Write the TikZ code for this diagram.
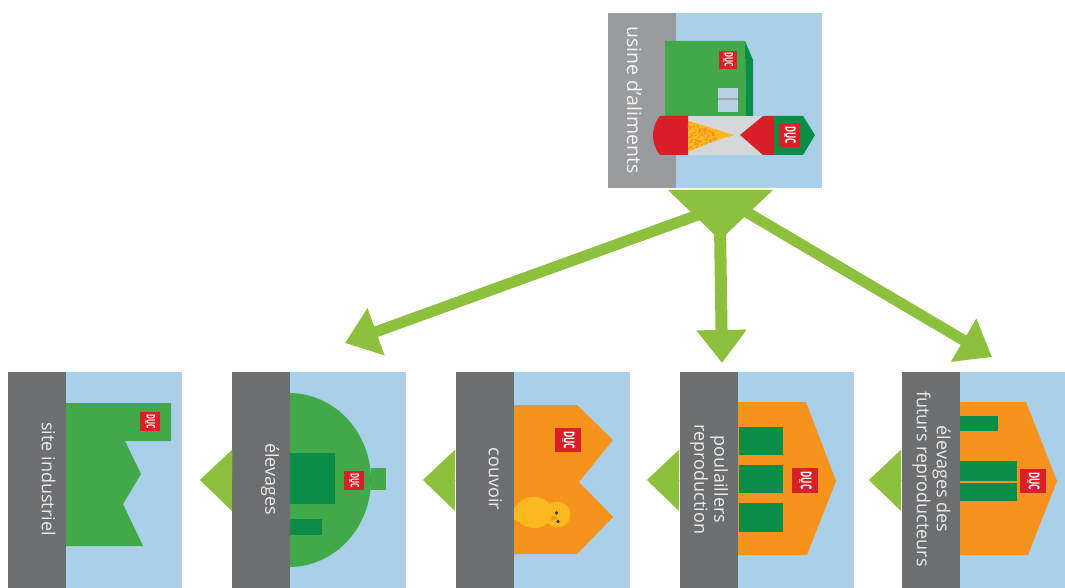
\documentclass[tikz,border=0pt]{standalone}
\usepackage{fontspec}
\setmainfont{Open Sans}
\usetikzlibrary{arrows.meta,calc}
\definecolor{headgray}{HTML}{6D6E70}
\definecolor{headlight}{HTML}{9A9B9D}
\definecolor{skyblue}{HTML}{A9CFE9}
\definecolor{barn}{HTML}{42A84A}
\definecolor{darkbarn}{HTML}{0A8D47}
\definecolor{orangebarn}{HTML}{F6931E}
\definecolor{ducred}{HTML}{D92027}
\definecolor{linkgreen}{HTML}{8DC03C}
\definecolor{chick}{HTML}{FBB81F}
\definecolor{silver}{HTML}{D5D8DA}
\tikzset{
  head/.style={fill=headgray,draw=none,inner sep=0pt,minimum width=58pt,minimum height=216pt,anchor=north west},
  sky/.style={fill=skyblue,draw=none,inner sep=0pt,minimum width=116pt,minimum height=216pt,anchor=north west},
  caption/.style={rotate=-90,text=white!92!black,align=center,font=\fontsize{18}{20}\selectfont,inner sep=0pt},
  biglink/.style={draw=linkgreen,line width=11pt,-{Triangle[length=33pt,width=48pt,fill=linkgreen]}},
  smalllink/.style={draw=linkgreen,line width=.1pt,-{Triangle[length=32pt,width=61pt,fill=linkgreen]}},
  logo/.style={fill=ducred,rotate=-90,text=white,inner sep=0pt},
  logomark/.style={draw=white!55!ducred,line width=.5pt}
}
\newcommand{\ducmark}[6]{% name, cx, cy, w, h, size
  \node[logo,minimum width=#5pt,minimum height=#4pt,font=\bfseries\fontsize{#6}{#6}\selectfont] (#1) at (#2,#3) {\raisebox{.16em}{\scalebox{.56}[1]{DUC}}};
  \draw[logomark] ($(#1.center)+(-.24*#4,-2)$) -- ($(#1.center)+(-.24*#4,2)$);
}
\begin{document}
\begin{tikzpicture}[x=1pt,y=-1pt]
\useasboundingbox (0,0) rectangle (1065,588);
\fill[white] (0,0) rectangle (1065,588);

% links from the hub
\coordinate (hubL) at (720,207);
\coordinate (hubB) at (720,225);
\coordinate (hubR) at (720,196.5);
\coordinate (tipL) at (345,343);
\coordinate (tipB) at (722,363);
\coordinate (tipR) at (992,357);
\draw[biglink] (hubL) -- (tipL);
\draw[biglink,line width=12pt] (hubB) -- (tipB);
\draw[biglink] (hubR) -- (tipR);
\fill[linkgreen] (668,190) -- (773,190) -- (720,240) -- cycle;

% top panel: usine d'aliments
\fill[skyblue] (676,13) rectangle (822,188);
\fill[barn] (665,41) -- (745,41) -- (746,116) -- (665,116) -- cycle;
\fill[darkbarn] (745,41) -- (753,60) -- (753,116) -- (746,116) -- cycle;
\fill[skyblue!70!silver] (718,88) rectangle (738,112);
\fill[gray!70] (718,98.5) rectangle (738,100);
\ducmark{logoF}{728}{60}{18}{18}{12}
\node[fill=headlight,inner sep=0pt,minimum width=68pt,minimum height=175pt,anchor=north west] (usineHead) at (608,13) {};
\fill[barn] (665,41) rectangle (676,116);
\node[caption,font=\fontsize{19.5}{21}\selectfont,text=white!90!headlight] (usineText) at (634.5,100) {usine d'aliments};
\fill[silver] (688,116) rectangle (763,155);
\fill[ducred] (688,116) -- (660,116) .. controls (655,122) and (653,128) .. (653,135) .. controls (653,142) and (655,149) .. (660,155) -- (688,155) -- cycle;
\fill[chick] (688,121) .. controls (702,124) and (718,131) .. (735,135) .. controls (718,139) and (702,146) .. (688,152) -- cycle;
\pgfmathsetseed{7}
\foreach \i in {1,...,90}{
  \pgfmathsetmacro{\gx}{688+rnd*28}
  \pgfmathsetmacro{\gy}{136+(rnd-.5)*(31-(\gx-688)*.85)}
  \fill[orangebarn!90!ducred] (\gx,\gy) circle (.8pt);
}
\fill[ducred] (740,135) -- (763,116) -- (774,116) -- (774,155) -- (763,155) -- cycle;
\fill[darkbarn] (774,116) -- (803,116) -- (815,135) -- (803,155) -- (774,155) -- cycle;
\ducmark{logoS}{789.5}{135.5}{21}{23}{14.5}

% site industriel
\node[sky] (siteSky) at (66,372) {};
\fill[barn] (66,403) -- (171,403) -- (171,441) -- (125,441) -- (141,474) -- (123,504) -- (143,546) -- (66,546) -- cycle;
\ducmark{logoA}{150}{421.5}{20}{19}{12}
\node[head] (siteHead) at (8,372) {};
\node[caption] (siteText) at (48.5,479) {site industriel};

% elevages
\node[sky] (elevSky) at (290,372) {};
\fill[barn] (371,468) rectangle (386,490);
\fill[barn] (289,393) arc[start angle=-90,end angle=90,x radius=82,y radius=87] -- cycle;
\fill[darkbarn] (289,453) rectangle (335,504);
\fill[darkbarn] (289,519) rectangle (322,535);
\ducmark{logoB}{354}{480.5}{20}{19}{12}
\node[head] (elevHead) at (232,372) {};
\node[caption] (elevText) at (270,479) {élevages};

% couvoir
\node[sky] (couvSky) at (514,372) {};
\fill[orangebarn] (514,405) -- (577,405) -- (613,440) -- (579,482) -- (613,517) -- (577,554) -- (514,554) -- cycle;
\ducmark{logoC}{568}{440}{26}{24}{15}
\fill[chick] (534,512.5) ellipse[x radius=19,y radius=15.5];
\fill[chick] (514,508) -- (519,505) -- (519,522) -- (514,519) -- cycle;
\fill[chick] (557.5,514.5) circle (13pt);
\fill[black!75] (556.5,513) circle (1.8pt);
\fill[black!75] (558,521.5) circle (1.8pt);
\fill[orangebarn] (552,516) -- (558,518) -- (551,521) -- cycle;
\node[head] (couvHead) at (456,372) {};
\node[caption] (couvText) at (495.5,479) {couvoir};

% poulaillers reproduction
\node[sky] (poulSky) at (738,372) {};
\fill[orangebarn] (738,402) -- (806,402) -- (836,481) -- (807,555) -- (738,555) -- cycle;
\fill[darkbarn] (739,427) rectangle (783,455);
\fill[darkbarn] (739,465) rectangle (783,493);
\fill[darkbarn] (739,503) rectangle (783,532);
\ducmark{logoD}{805}{480.5}{26}{25}{15}
\node[head] (poulHead) at (680,372) {};
\node[caption] (poulText) at (709,479.5) {poulaillers\\reproduction};

% elevages des futurs reproducteurs
\node[sky] (futSky) at (959,372) {};
\fill[orangebarn] (959,402) -- (1026,402) -- (1057,481) -- (1028,555) -- (959,555) -- cycle;
\fill[darkbarn] (959,416) rectangle (998,431);
\fill[darkbarn] (959,461) rectangle (1017,481);
\fill[darkbarn] (959,482.5) rectangle (1017,501);
\ducmark{logoE}{1033}{481}{26}{24}{15}
\node[head] (futHead) at (902,372) {};
\node[caption] (futText) at (931.5,479) {élevages des\\futurs reproducteurs};

% small links between panels
\coordinate (tipA) at (200,480);
\coordinate (tipC) at (423,480);
\coordinate (tipD) at (647,480);
\coordinate (tipE) at (869,480);
\draw[smalllink] (elevHead.west) -- (tipA);
\draw[smalllink] (couvHead.west) -- (tipC);
\draw[smalllink] (poulHead.west) -- (tipD);
\draw[smalllink] (futHead.west) -- (tipE);
\end{tikzpicture}
\end{document}
